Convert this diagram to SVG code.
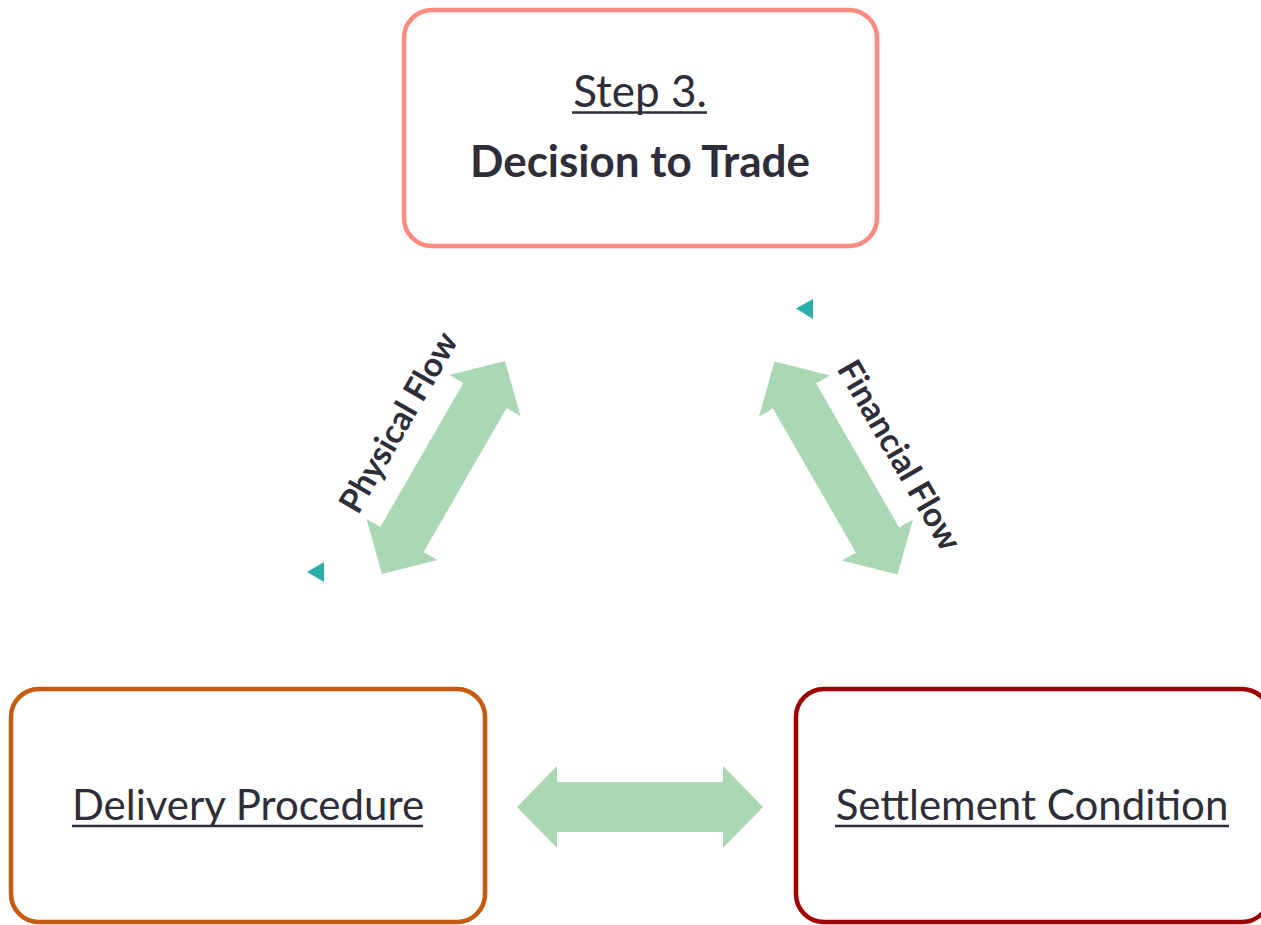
<svg xmlns="http://www.w3.org/2000/svg" width="1261" height="925" viewBox="0 0 1261 925">
  <style>
    .box { fill: #ffffff; stroke-width: 4.5; }
    .title { font-family: Lato, "Liberation Sans", sans-serif; font-size: 44px; fill: #2E2E3A; text-anchor: middle; }
    .small { font-size: 42px; }
    .bold { font-weight: bold; }
    .label { font-family: Lato, "Liberation Sans", sans-serif; font-size: 33.5px; font-weight: bold; fill: #2E2E3A; text-anchor: middle; }
    .uline { stroke: #2E2E3A; stroke-width: 2.5; }
    .flow { fill: #ABD8B4; }
    .tick { fill: #2BAEA8; }
  </style>
  <defs>
    <!-- double-headed block arrow, centred on the origin -->
    <path id="dbl" d="M-123,0 L-83,-41 L-83,-25 L83,-25 L83,-41 L123,0 L83,41 L83,25 L-83,25 L-83,41 Z"/>
  </defs>

  <g id="node-decision">
    <rect class="box" x="404" y="10" width="473" height="236" rx="28" stroke="#FF8B81"/>
    <text class="title" x="640" y="107">Step 3.</text>
    <line class="uline" x1="572" y1="112.5" x2="707" y2="112.5"/>
    <text class="title bold" x="640" y="177">Decision to Trade</text>
  </g>

  <g id="node-delivery">
    <rect class="box" x="11" y="689" width="474" height="233" rx="28" stroke="#C55A11"/>
    <text class="title small" x="248" y="820">Delivery Procedure</text>
    <line class="uline" x1="72" y1="826" x2="423" y2="826"/>
  </g>

  <g id="node-settlement">
    <rect class="box" x="796" y="689" width="474" height="233" rx="28" stroke="#A00000"/>
    <text class="title small" x="1032" y="820">Settlement Condition</text>
    <line class="uline" x1="835" y1="826" x2="1229" y2="826"/>
  </g>

  <g id="connectors">
    <use href="#dbl" class="flow" transform="translate(443.5,467.5) rotate(-60)"/>
    <use href="#dbl" class="flow" transform="translate(836,468) rotate(60)"/>
    <use href="#dbl" class="flow" transform="translate(640,807)"/>
    <text class="label" transform="translate(408.5,428) rotate(-60)">Physical Flow</text>
    <text class="label" transform="translate(889.5,461) rotate(60)">Financial Flow</text>
    <polygon class="tick" points="307,572 324,562 324,582"/>
    <polygon class="tick" points="796,308.5 813,299 813,319"/>
  </g>
</svg>
